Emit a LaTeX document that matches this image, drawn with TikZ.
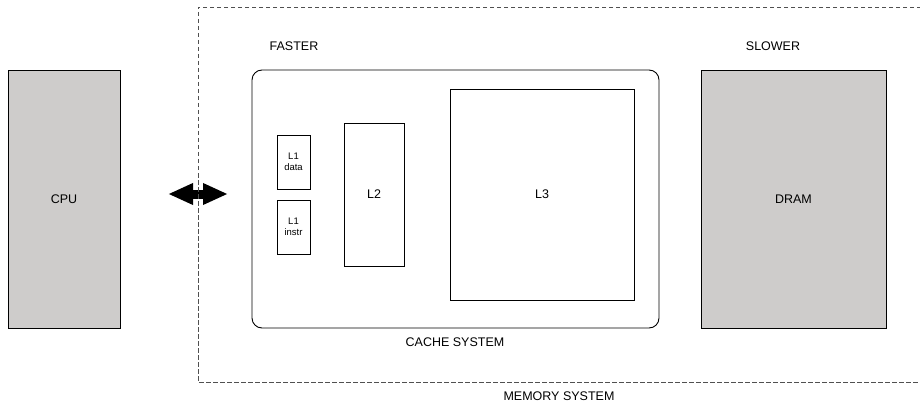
\documentclass[tikz,border=0pt]{standalone}
\usepackage{fontspec}
\setmainfont{Liberation Sans}
\usetikzlibrary{arrows.meta}
\definecolor{boxgray}{RGB}{206,204,203}
\definecolor{dashgray}{RGB}{80,80,80}

\begin{document}
\begin{tikzpicture}[x=1pt,y=-1pt,line width=0.9pt,
    label/.style={font=\fontsize{12.5}{14}\selectfont},
    small label/.style={font=\fontsize{9.5}{11}\selectfont,align=center},
    unit box/.style={draw,fill=boxgray,inner sep=0,label},
    level box/.style={draw,fill=white,inner sep=0,label},
    bus/.style={line width=9pt,{Triangle[length=25pt,width=20pt]}-{Triangle[length=25pt,width=20pt]}}]

            \useasboundingbox (0,0) rectangle (920,406);

            \node[unit box, minimum width=112, minimum height=258] (cpu) at (64,199) {CPU};
            \node[unit box, minimum width=185, minimum height=258] (dram) at (793.5,199) {DRAM};

            \node[draw, rounded corners=10pt, minimum width=407, minimum height=258, inner sep=0] (cache) at (455.5,199) {};
            \node[level box, small label, minimum width=33, minimum height=54] (l1d) at (293.5,162) {L1\\data};
            \node[level box, small label, minimum width=33, minimum height=54] (l1i) at (293.5,227) {L1\\instr};
            \node[level box, minimum width=60, minimum height=143] (l2) at (374,194.5) {L2};
            \node[level box, minimum width=184, minimum height=211] (l3) at (542,194.5) {L3};

            \node[label] (faster) at (294,46) {FASTER};
            \node[label] (slower) at (773,46) {SLOWER};
            \node[label] (cachename) at (455,342) {CACHE SYSTEM};
            \node[label] (memname) at (559,396) {MEMORY SYSTEM};

            \coordinate (busL) at (168,194);
            \coordinate (busR) at (228,194);
            \draw[bus] (busL) -- (busR);

            \draw[dashgray, thin, dash pattern=on 4.5pt off 2.5pt] (921,7) -- (198,7) -- (198,382) -- (921,382);

        \end{tikzpicture}
\end{document}
